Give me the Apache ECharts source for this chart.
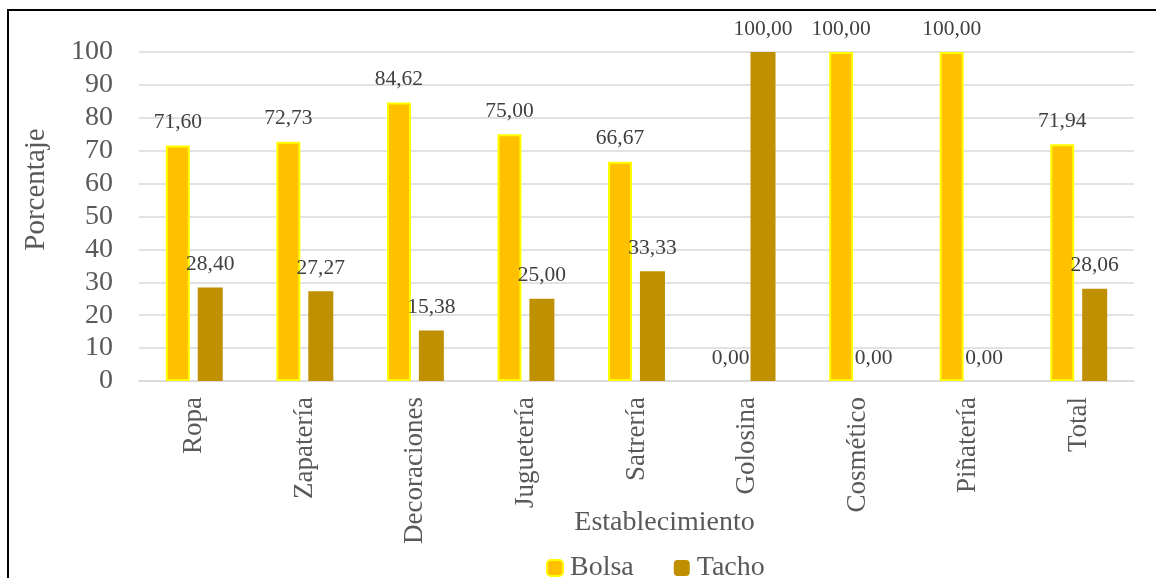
<!DOCTYPE html>
<html>
<head>
<meta charset="utf-8">
<script src="https://cdn.jsdelivr.net/npm/echarts@6/dist/echarts.min.js"></script>
<style>html,body{margin:0;padding:0;background:#fff}#c{width:1156px;height:578px}</style>
</head>
<body>
<div id="c"></div>
<script>
const categories = ['Ropa','Zapatería','Decoraciones','Juguetería','Satrería','Golosina','Cosmético','Piñatería','Total'];
const bolsa = [71.60, 72.73, 84.62, 75.00, 66.67, 0.00, 100.00, 100.00, 71.94];
const tacho = [28.40, 27.27, 15.38, 25.00, 33.33, 100.00, 0.00, 0.00, 28.06];
const seriesNames = ['Bolsa','Tacho'];
const yTicks = {min: 0, max: 100, interval: 10};

const FONT = 'Liberation Serif, Times New Roman, serif';
const chart = echarts.init(document.getElementById('c'), null, {renderer: 'canvas'});
const fmt = p => p.value.toFixed(2).replace('.', ',');
const bolsaData = bolsa.map(v => v === 0 ? {value: v, itemStyle: {borderWidth: 0}} : v);
chart.setOption({
  animation: false,
  backgroundColor: '#fff',
  graphic: [{
    type: 'rect', silent: true,
    shape: {x: 8, y: 10, width: 1300, height: 700},
    style: {fill: 'none', stroke: '#000', lineWidth: 2}
  }],
  grid: {left: 139, right: 22, top: 52, bottom: 197, outerBoundsMode: 'none', containLabel: false},
  legend: {
    left: 541, top: 549,
    itemWidth: 16, itemHeight: 16, itemGap: 40,
    textStyle: {fontFamily: FONT, fontSize: 28, color: '#595959', padding: [0,0,0,2]},
    data: seriesNames
  },
  xAxis: {
    type: 'category', data: categories,
    name: 'Establecimiento', nameLocation: 'middle', nameGap: 128, nameMoveOverlap: false,
    nameTextStyle: {fontFamily: FONT, fontSize: 28, color: '#595959', padding: [0,0,0,56]},
    axisLine: {lineStyle: {color: '#D9D9D9', width: 1.5}},
    axisTick: {show: false},
    axisLabel: {rotate: 90, margin: 16, fontFamily: FONT, fontSize: 27, color: '#595959'}
  },
  yAxis: {
    type: 'value', min: yTicks.min, max: yTicks.max, interval: yTicks.interval,
    name: 'Porcentaje', nameLocation: 'middle', nameGap: 88, nameMoveOverlap: false,
    nameTextStyle: {fontFamily: FONT, fontSize: 29, color: '#595959', padding: [0,0,0,54]},
    axisLine: {show: false}, axisTick: {show: false},
    axisLabel: {margin: 26, fontFamily: FONT, fontSize: 28, color: '#595959'},
    splitLine: {lineStyle: {color: '#D9D9D9', width: 1.5}}
  },
  series: [
    {
      name: seriesNames[0], type: 'bar', data: bolsaData, barWidth: 24, barGap: '33%',
      itemStyle: {color: '#FFC000', borderColor: '#FFFF00', borderWidth: 2},
      label: {show: true, position: 'top', distance: 12, formatter: fmt,
        fontFamily: FONT, fontSize: 21.5, color: '#404040'}
    },
    {
      name: seriesNames[1], type: 'bar', data: tacho, barWidth: 25,
      itemStyle: {color: '#BF9000'},
      label: {show: true, position: 'top', distance: 12, formatter: fmt,
        fontFamily: FONT, fontSize: 21.5, color: '#404040'}
    }
  ]
});
</script>
</body>
</html>
